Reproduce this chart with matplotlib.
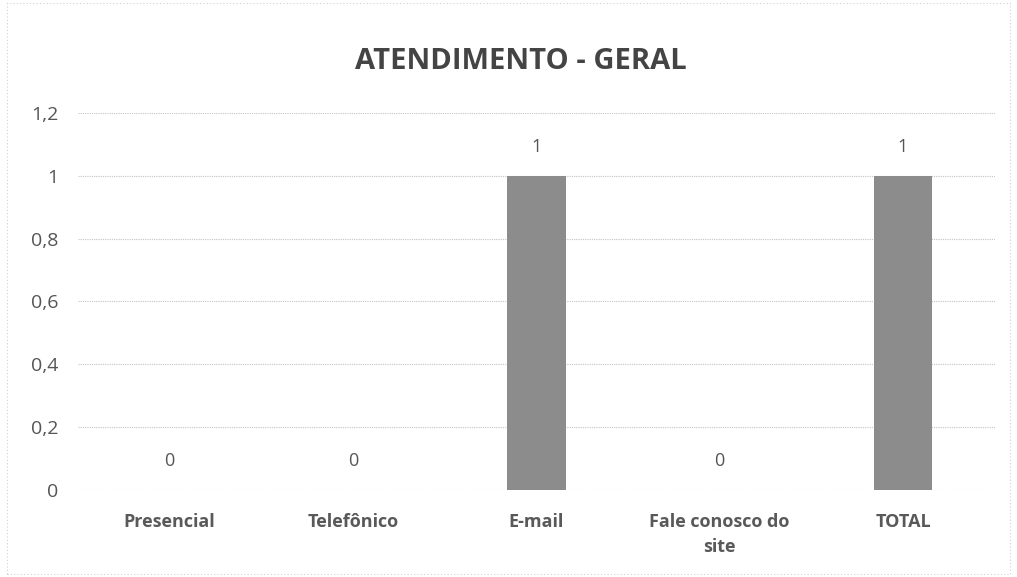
import matplotlib.pyplot as plt
from matplotlib.patches import Rectangle

# ── Data ─────────────────────────────────────────────────────────────────────
categories = ["Presencial", "Telefônico", "E-mail", "Fale conosco do\nsite", "TOTAL"]
values = [0, 0, 1, 0, 1]
y_ticks = [0, 0.2, 0.4, 0.6, 0.8, 1.0, 1.2]
y_tick_labels = ["0", "0,2", "0,4", "0,6", "0,8", "1", "1,2"]

plt.rcParams["font.family"] = ["Open Sans", "DejaVu Sans"]

fig = plt.figure(figsize=(10.17, 5.77), dpi=100)
fig.patch.set_facecolor("white")
ax = fig.add_axes([0.0767, 0.151, 0.9013, 0.653])

x = list(range(len(categories)))
bars = ax.bar(x, values, width=0.32, color="#8c8c8c", zorder=3)

# value labels
for xi, v in zip(x, values):
    ax.annotate(f"{v}", xy=(xi, v), xytext=(0, 14), textcoords="offset points",
                ha="center", va="bottom", fontsize=13, color="#555555")

# ── Axes ─────────────────────────────────────────────────────────────────────
ax.set_xlim(-0.5, len(categories) - 0.5)
ax.set_ylim(0, 1.2)
ax.set_yticks(y_ticks)
ax.set_yticklabels(y_tick_labels, fontsize=14, color="#555555")
ax.set_xticks(x)
ax.set_xticklabels(categories, fontsize=13, fontweight="bold", color="#595959",
                   linespacing=1.5, va="top")
ax.tick_params(axis="both", length=0)
ax.tick_params(axis="x", pad=17)
ax.tick_params(axis="y", pad=14)
ax.yaxis.grid(True, linestyle=(0, (1, 1)), linewidth=0.8, color="#c4c4c4", zorder=0)
for s in ax.spines.values():
    s.set_visible(False)

ax.set_title("ATENDIMENTO - GERAL", fontsize=21, fontweight="bold", color="#444444",
             pad=32, x=0.483)

# thin scanned border
fig.patches.append(Rectangle((0.007, 0.005), 0.986, 0.99, transform=fig.transFigure,
                             fill=False, edgecolor="#d0d0d0", linewidth=0.8,
                             linestyle=(0, (1, 2))))

plt.savefig("out.png", dpi=100, facecolor="white")
plt.close()
